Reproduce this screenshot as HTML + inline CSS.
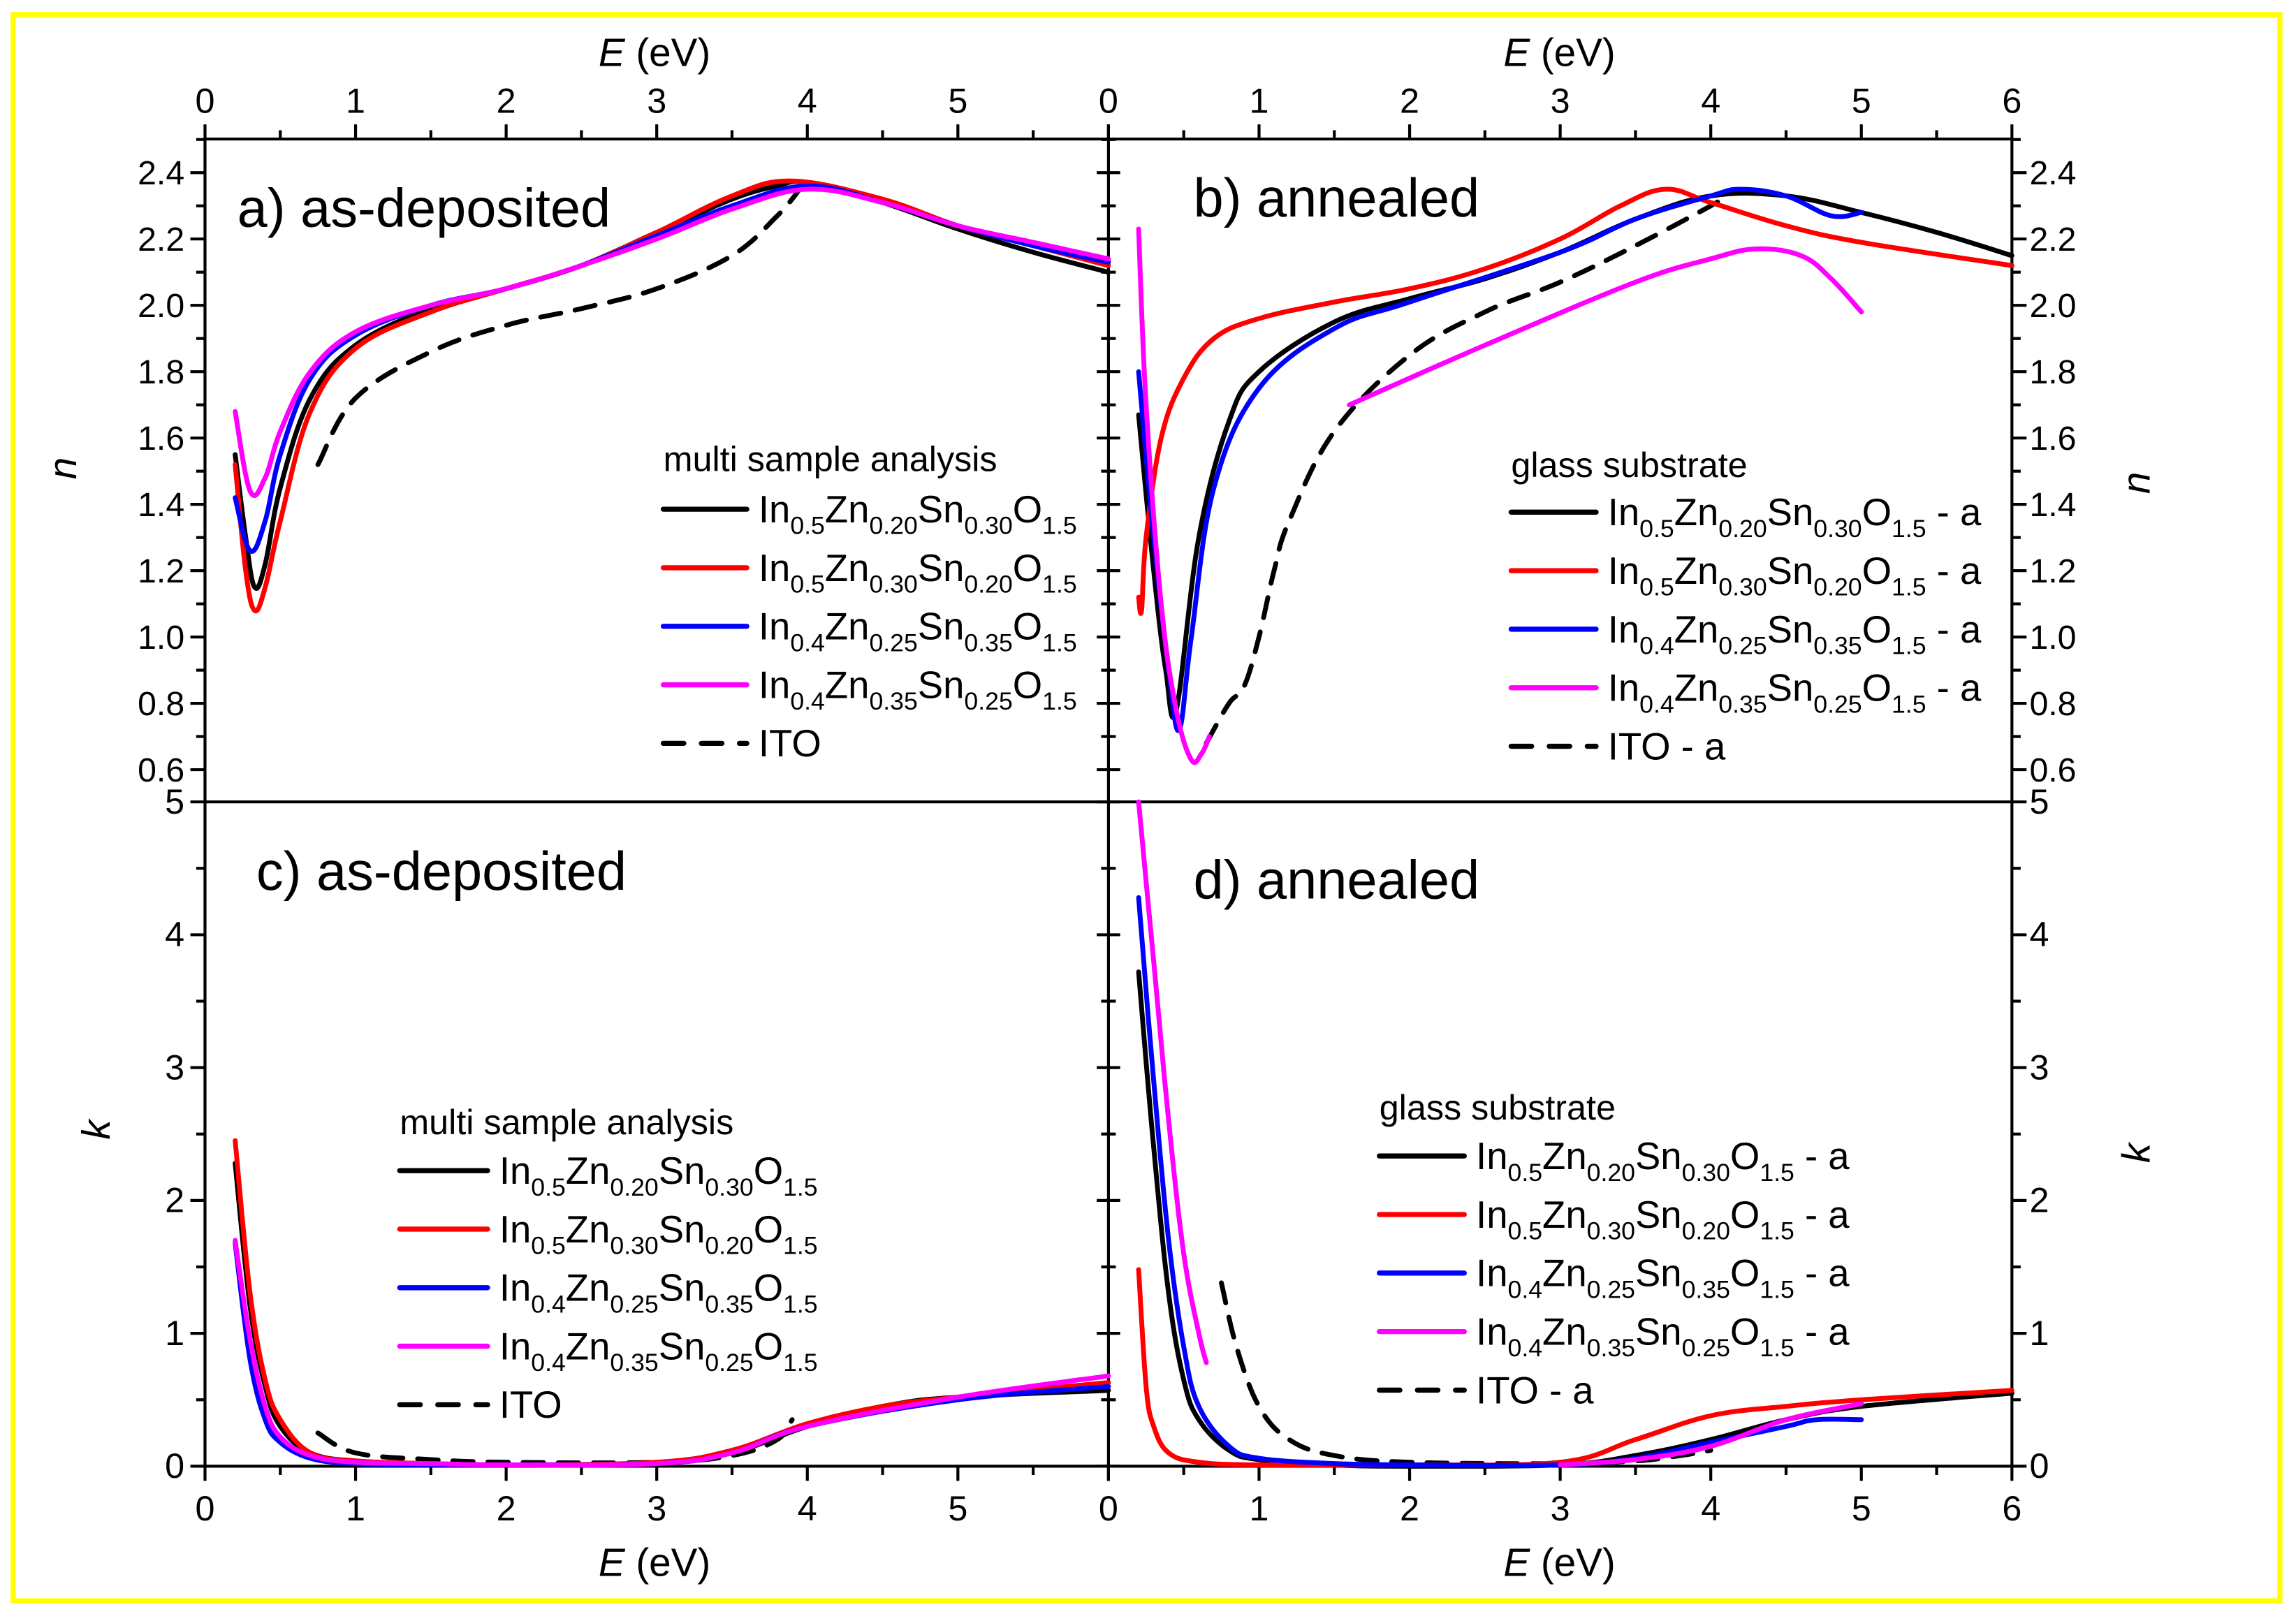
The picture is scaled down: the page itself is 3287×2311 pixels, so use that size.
<!DOCTYPE html>
<html><head><meta charset="utf-8">
<style>
html,body{margin:0;padding:0;background:#fff;}
svg{display:block;font-family:"Liberation Sans",Arial,sans-serif;}
</style></head>
<body>
<svg id="fig" width="3287" height="2311" viewBox="0 0 1568 1103" preserveAspectRatio="none" xmlns="http://www.w3.org/2000/svg">
<rect x="0" y="0" width="1568" height="1103" fill="#fff"/>
<rect x="9" y="10" width="1548" height="1084" fill="none" stroke="#ffff00" stroke-width="3.5"/>
<g id="axes" stroke="#000" stroke-width="2" fill="none"></g>
<g id="series" fill="none" stroke-linejoin="round" stroke-linecap="round"></g>
<g id="labels" fill="#000"></g>
</svg>
<script>
// ---- data ----
const xTicks = [0,1,2,3,4,5,6];
const nTicks = [0.6,0.8,1.0,1.2,1.4,1.6,1.8,2.0,2.2,2.4];
const kTicks = [0,1,2,3,4,5];
// panel a (n, as-deposited)
const aE_black = [0.2,0.27,0.33,0.4,0.5,0.7,1,1.5,2,2.5,3,3.5,3.8,4,4.5,5,5.5,6];
const aN_black = [1.55,1.3,1.15,1.22,1.45,1.72,1.88,1.99,2.05,2.12,2.22,2.32,2.36,2.37,2.31,2.23,2.16,2.10];
const aE_red = [0.2,0.27,0.33,0.4,0.5,0.7,1,1.5,2,2.5,3,3.5,3.9,4.5,5,5.5,6];
const aN_red = [1.52,1.2,1.08,1.15,1.35,1.68,1.87,1.98,2.05,2.12,2.22,2.33,2.375,2.32,2.24,2.18,2.12];
const aE_blue = [0.2,0.3,0.4,0.5,0.7,1,1.5,2,2.5,3,3.5,4,4.5,5,5.5,6];
const aN_blue = [1.42,1.26,1.35,1.55,1.78,1.91,2.0,2.05,2.12,2.21,2.30,2.36,2.31,2.24,2.18,2.13];
const aE_mag = [0.2,0.3,0.4,0.5,0.7,1,1.5,2,2.5,3,3.5,4,4.5,5,5.5,6];
const aN_mag = [1.68,1.44,1.48,1.62,1.80,1.92,2.0,2.05,2.12,2.2,2.29,2.35,2.31,2.24,2.19,2.14];
const aE_ito = [0.75,1,1.5,2,2.5,3,3.5,3.8,3.95];
const aN_ito = [1.52,1.72,1.86,1.94,1.99,2.05,2.15,2.27,2.35];
// panel b (n, annealed)
const bE_black = [0.2,0.3,0.38,0.45,0.6,0.8,1,1.5,2,2.5,3,3.5,4,4.5,5,5.5,6];
const bN_black = [1.67,1.2,0.9,0.78,1.3,1.65,1.8,1.95,2.02,2.08,2.16,2.26,2.33,2.33,2.28,2.22,2.15];
const bE_red = [0.2,0.22,0.25,0.35,0.5,0.7,1,1.5,2,2.5,3,3.4,3.7,4,4.5,5,6];
const bN_red = [1.12,1.08,1.3,1.6,1.78,1.9,1.96,2.01,2.05,2.11,2.2,2.3,2.35,2.31,2.24,2.19,2.12];
const bE_blue = [0.2,0.3,0.4,0.47,0.55,0.7,1,1.5,2,3,3.5,4,4.2,4.5,4.8,5];
const bN_blue = [1.8,1.3,0.9,0.72,1.0,1.45,1.75,1.93,2.01,2.16,2.26,2.33,2.35,2.33,2.27,2.28];
const bE_mag1 = [0.2,0.25,0.35,0.45,0.55,0.62,0.67];
const bN_mag1 = [2.23,1.7,1.1,0.78,0.63,0.65,0.7];
const bE_mag2 = [1.6,2.5,3.5,4,4.3,4.6,4.8,5];
const bN_mag2 = [1.7,1.88,2.07,2.14,2.17,2.15,2.08,1.98];
const bE_ito = [0.65,0.8,0.9,1,1.1,1.2,1.5,2,2.5,3,3.5,4,4.1];
const bN_ito = [0.68,0.8,0.85,1.0,1.2,1.35,1.62,1.85,1.98,2.07,2.18,2.3,2.33];
// panel c (k, as-deposited)
const cE_black = [0.2,0.3,0.4,0.5,0.7,1,1.5,2,3,3.5,4,4.5,5,6];
const cK_black = [2.28,1.2,0.6,0.3,0.1,0.04,0.02,0.01,0.02,0.1,0.3,0.45,0.52,0.57];
const cE_red = [0.2,0.3,0.4,0.5,0.7,1,1.5,2,3,3.5,4,4.5,5,6];
const cK_red = [2.45,1.3,0.65,0.35,0.1,0.04,0.02,0.01,0.03,0.12,0.32,0.45,0.52,0.63];
const cE_blue = [0.2,0.3,0.4,0.5,0.7,1,1.5,2,3,3.5,4,5,6];
const cK_blue = [1.68,0.8,0.35,0.18,0.06,0.02,0.01,0.01,0.02,0.1,0.3,0.5,0.6];
const cE_mag = [0.2,0.3,0.4,0.5,0.7,1,1.5,2,3,3.5,4,5,6];
const cK_mag = [1.7,0.95,0.45,0.22,0.08,0.03,0.02,0.01,0.02,0.1,0.3,0.52,0.68];
const cE_ito = [0.75,1,1.5,2,3,3.5,3.8,3.9];
const cK_ito = [0.25,0.1,0.05,0.03,0.03,0.08,0.2,0.35];
// panel d (k, annealed)
const dE_black = [0.2,0.3,0.4,0.5,0.6,0.8,1,1.5,2,3,3.5,4,4.5,5,6];
const dK_black = [3.72,2.4,1.3,0.65,0.35,0.12,0.05,0.01,0,0.01,0.08,0.2,0.35,0.45,0.55];
const dE_red = [0.2,0.25,0.3,0.4,0.6,1,2,3,3.5,4,4.5,5,6];
const dK_red = [1.48,0.6,0.3,0.1,0.03,0.01,0.01,0.03,0.2,0.38,0.45,0.5,0.57];
const dE_blue = [0.2,0.3,0.4,0.5,0.6,0.8,1,1.5,2,3,3.5,4,4.5,4.7,5];
const dK_blue = [4.28,2.9,1.7,0.9,0.45,0.15,0.06,0.02,0.01,0.01,0.06,0.18,0.3,0.35,0.35];
const dE_mag1 = [0.2,0.3,0.4,0.5,0.6,0.65];
const dK_mag1 = [5.0,3.8,2.6,1.6,1.0,0.78];
const dE_mag2 = [3,3.5,4,4.5,5];
const dK_mag2 = [0.01,0.05,0.15,0.35,0.47];
const dE_ito = [0.75,0.85,1,1.2,1.5,2,3,3.5,3.8,4.0];
const dK_ito = [1.38,0.9,0.45,0.2,0.08,0.03,0.02,0.04,0.08,0.12];

// ---- geometry ----
const NS="http://www.w3.org/2000/svg";
const L0=140,R0=757,R6=1374,TOP=95,MID=548,BOT=1002;
const xL = e => L0 + e*(R0-L0)/6;
const xR = e => R0 + e*(R6-R0)/6;
const yN = n => 526 - (n-0.6)*(526-118)/1.8;
const yK = k => BOT - k*(BOT-MID)/5;
const axes=document.getElementById('axes'), series=document.getElementById('series'), labels=document.getElementById('labels');

function line(x1,y1,x2,y2,name,w){
  const l=document.createElementNS(NS,'line');
  l.setAttribute('x1',x1);l.setAttribute('y1',y1);l.setAttribute('x2',x2);l.setAttribute('y2',y2);
  if(w) l.setAttribute('stroke-width',w);
  
  
  axes.appendChild(l);
}
function text(x,y,s,size,anchor,name,extra){
  const t=document.createElementNS(NS,'text');
  t.setAttribute('x',x);t.setAttribute('y',y);t.setAttribute('font-size',size);
  if(anchor) t.setAttribute('text-anchor',anchor);
  if(extra) for(const k in extra) t.setAttribute(k,extra[k]);
  t.innerHTML=s;
  
  
  labels.appendChild(t);
  return t;
}
// frame
line(L0,TOP,R6,TOP,'top-axis');
line(L0,BOT,R6,BOT,'bottom-axis');
line(L0,MID,R6,MID,'middle-divider');
line(L0,TOP,L0,BOT,'left-axis');
line(R0,TOP,R0,BOT,'center-divider');
line(R6,TOP,R6,BOT,'right-axis');
// x ticks
xTicks.forEach(e=>{
  [xL,xR].forEach((f,pi)=>{
    const x=f(e);
    line(x,TOP,x,TOP-10,'x-tick-top');
    line(x,BOT,x,BOT+10,'x-tick-bottom');
    if(e<6){line(f(e+0.5),TOP,f(e+0.5),TOP-6,'x-minor-top');line(f(e+0.5),BOT,f(e+0.5),BOT+6,'x-minor-bottom');}
    if(pi===0 && e===6) return;
    text(x,77,String(e),24,'middle','x-tick-label-top');
    text(x,1039,String(e),24,'middle','x-tick-label-bottom');
  });
});
// n ticks
nTicks.forEach((n,i)=>{
  const y=yN(n);
  line(L0-10,y,L0,y,'n-tick-left');line(R0-8,y,R0+8,y,'n-tick-mid');line(R6,y,R6+10,y,'n-tick-right');
  const lbl=n.toFixed(1);
  text(L0-14,y+8,lbl,23,'end','n-tick-label-left');
  text(R6+12,y+8,lbl,23,'start','n-tick-label-right');
  const ym=yN(n+0.1);
  if(ym>TOP) {line(L0-6,ym,L0,ym,'n-minor-left');line(R0-5,ym,R0+5,ym,'n-minor-mid');line(R6,ym,R6+6,ym,'n-minor-right');}
});
// k ticks
kTicks.forEach(k=>{
  const y=yK(k);
  line(L0-10,y,L0,y,'k-tick-left');line(R0-8,y,R0+8,y,'k-tick-mid');line(R6,y,R6+10,y,'k-tick-right');
  text(L0-14,y+8,String(k),24,'end','k-tick-label-left');
  text(R6+12,y+8,String(k),24,'start','k-tick-label-right');
  if(k<5){const ym=yK(k+0.5);line(L0-6,ym,L0,ym,'k-minor-left');line(R0-5,ym,R0+5,ym,'k-minor-mid');line(R6,ym,R6+6,ym,'k-minor-right');}
});
// axis titles
text(447,45,'<tspan font-style="italic">E</tspan> (eV)',27,'middle','x-axis-title-top-left');
text(1065,45,'<tspan font-style="italic">E</tspan> (eV)',27,'middle','x-axis-title-top-right');
text(447,1077,'<tspan font-style="italic">E</tspan> (eV)',27,'middle','x-axis-title-bottom-left');
text(1065,1077,'<tspan font-style="italic">E</tspan> (eV)',27,'middle','x-axis-title-bottom-right');
text(52,320,'n',27,'middle','y-axis-title-n-left',{'font-style':'italic',transform:'rotate(-90 52 320)'});
text(75,772,'k',27,'middle','y-axis-title-k-left',{'font-style':'italic',transform:'rotate(-90 75 772)'});
text(1468,330,'n',27,'middle','y-axis-title-n-right',{'font-style':'italic',transform:'rotate(-90 1468 330)'});
text(1468,788,'k',27,'middle','y-axis-title-k-right',{'font-style':'italic',transform:'rotate(-90 1468 788)'});
// panel titles
text(162,155,'a) as-deposited',37,'start','panel-a-title');
text(815,148,'b) annealed',37,'start','panel-b-title');
text(175,608,'c) as-deposited',37,'start','panel-c-title');
text(815,614,'d) annealed',37,'start','panel-d-title');

// series (smoothed Catmull-Rom)
function smoothPath(pts){
  let d='M'+pts[0][0].toFixed(1)+','+pts[0][1].toFixed(1);
  for(let i=0;i<pts.length-1;i++){
    const p0=pts[i-1]||pts[i],p1=pts[i],p2=pts[i+1],p3=pts[i+2]||p2;
    const t=0.18;
    const c1=[p1[0]+(p2[0]-p0[0])*t,p1[1]+(p2[1]-p0[1])*t];
    const c2=[p2[0]-(p3[0]-p1[0])*t,p2[1]-(p3[1]-p1[1])*t];
    d+=' C'+c1.map(v=>v.toFixed(1)).join(',')+' '+c2.map(v=>v.toFixed(1)).join(',')+' '+p2.map(v=>v.toFixed(1)).join(',');
  }
  return d;
}
function plot(E,V,fx,fy,color,dash,name){
  const p=document.createElementNS(NS,'path');
  p.setAttribute('d',smoothPath(E.map((e,i)=>[fx(e),fy(V[i])])));
  p.setAttribute('stroke',color);p.setAttribute('stroke-width','3.3');
  if(dash) p.setAttribute('stroke-dasharray','14 10');
  
  
  series.appendChild(p);
}
const BK='#000',RD='#ff0000',BL='#0000ff',MG='#ff00ff';
plot(aE_ito,aN_ito,xL,yN,BK,true,'a-ito');
plot(aE_black,aN_black,xL,yN,BK,false,'a-in05zn020');
plot(aE_red,aN_red,xL,yN,RD,false,'a-in05zn030');
plot(aE_blue,aN_blue,xL,yN,BL,false,'a-in04zn025');
plot(aE_mag,aN_mag,xL,yN,MG,false,'a-in04zn035');
plot(bE_ito,bN_ito,xR,yN,BK,true,'b-ito');
plot(bE_black,bN_black,xR,yN,BK,false,'b-in05zn020');
plot(bE_red,bN_red,xR,yN,RD,false,'b-in05zn030');
plot(bE_blue,bN_blue,xR,yN,BL,false,'b-in04zn025');
plot(bE_mag1,bN_mag1,xR,yN,MG,false,'b-in04zn035-low');
plot(bE_mag2,bN_mag2,xR,yN,MG,false,'b-in04zn035-high');
plot(cE_ito,cK_ito,xL,yK,BK,true,'c-ito');
plot(cE_black,cK_black,xL,yK,BK,false,'c-in05zn020');
plot(cE_red,cK_red,xL,yK,RD,false,'c-in05zn030');
plot(cE_blue,cK_blue,xL,yK,BL,false,'c-in04zn025');
plot(cE_mag,cK_mag,xL,yK,MG,false,'c-in04zn035');
plot(dE_ito,dK_ito,xR,yK,BK,true,'d-ito');
plot(dE_black,dK_black,xR,yK,BK,false,'d-in05zn020');
plot(dE_red,dK_red,xR,yK,RD,false,'d-in05zn030');
plot(dE_blue,dK_blue,xR,yK,BL,false,'d-in04zn025');
plot(dE_mag1,dK_mag1,xR,yK,MG,false,'d-in04zn035-low');
plot(dE_mag2,dK_mag2,xR,yK,MG,false,'d-in04zn035-high');

// legends
const legComps=[['0.5','0.20','0.30'],['0.5','0.30','0.20'],['0.4','0.25','0.35'],['0.4','0.35','0.25']];
const legColors=[BK,RD,BL,MG];
function legend(x,yTitle,y0,title,suffix,tag,len){
  text(x,yTitle,title,24,'start',tag+'-legend-title');
  for(let i=0;i<5;i++){
    const y=y0+i*40;
    const l=document.createElementNS(NS,'line');
    l.setAttribute('x1',x);l.setAttribute('x2',x+len);l.setAttribute('y1',y);l.setAttribute('y2',y);
    l.setAttribute('stroke',i<4?legColors[i]:BK);l.setAttribute('stroke-width','3.5');
    if(i===4) l.setAttribute('stroke-dasharray','14 12');
    
    
    series.appendChild(l);
    const tx=x+len+8;
    if(i<4){
      const c=legComps[i];
      text(tx,y+9,'In<tspan font-size="17" dy="8">'+c[0]+'</tspan><tspan dy="-8">Zn</tspan><tspan font-size="17" dy="8">'+c[1]+'</tspan><tspan dy="-8">Sn</tspan><tspan font-size="17" dy="8">'+c[2]+'</tspan><tspan dy="-8">O</tspan><tspan font-size="17" dy="8">1.5</tspan><tspan dy="-8">'+suffix+'</tspan>',26,'start',tag+'-legend-entry');
    } else {
      text(tx,y+9,'ITO'+(suffix? (tag==='b'?' ':'')+suffix:''),26,'start',tag+'-legend-entry');
    }
  }
}
legend(453,322,348,'multi sample analysis','','a',57);
legend(1032,326,350,'glass substrate',' - a','b',58);
legend(273,775,800,'multi sample analysis','','c',60);
legend(942,765,790,'glass substrate',' - a','d',58);
</script>
</body></html>
